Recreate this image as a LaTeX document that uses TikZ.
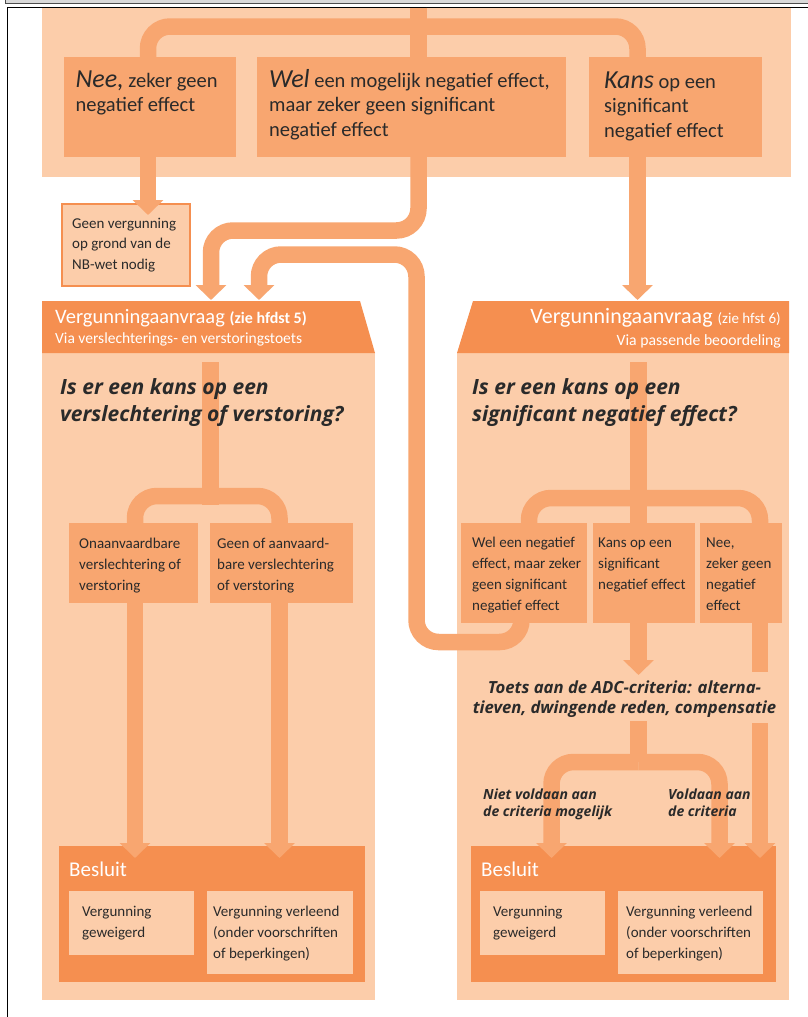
\documentclass[tikz,border=0pt]{standalone}
\usepackage{fontspec}
\setmainfont{Carlito}
\newfontfamily\osans{Open Sans}
\usetikzlibrary{arrows.meta}
\pgfdeclarelayer{back}
\pgfdeclarelayer{mid}
\pgfsetlayers{back,mid,main}
\definecolor{lightp}{HTML}{FCCDAA}
\definecolor{medo}{HTML}{F8A670}
\definecolor{darko}{HTML}{F58F50}
\definecolor{txt}{HTML}{2A2A2A}
\newcommand\Lt[2]{\vtop{\baselineskip=#1\lineskiplimit=-100pt\lineskip=0pt\halign{##\hfil\cr#2\crcr}}}
\newcommand\Ct[2]{\vtop{\baselineskip=#1\lineskiplimit=-100pt\lineskip=0pt\halign{\hfil##\hfil\cr#2\crcr}}}
\newcommand\fTop{\fontsize{20.5}{24.5}\selectfont}
\newcommand\fBig{\fontsize{26}{26}\selectfont\itshape}
\newcommand\fBox{\fontsize{15}{21}\selectfont}
\newcommand\fQ{\osans\bfseries\itshape\fontsize{21}{27}\selectfont}
\begin{document}
\begin{tikzpicture}[x=1pt,y=-1pt,
  bx/.style={rectangle,inner sep=0pt,outer sep=0pt,anchor=north west,draw=none},
  conn/.style={draw=medo,line width=16.5pt,rounded corners=22pt},
  arr/.style={conn,-{Triangle[length=15pt,width=30pt]}},
  tx/.style={inner sep=0pt,anchor=base west,text=txt},
  wtx/.style={inner sep=0pt,anchor=base west,text=white}]
\useasboundingbox (0,0) rectangle (807,1017);
\begin{pgfonlayer}{back}
\fill[white] (0,0) rectangle (807,1017);
% page frame
\fill[black!15] (5,-1) rectangle (808,3);
\draw[black!70,line width=1pt] (5,-1) -- (5,3) -- (808,3);
\draw[black,line width=1.3pt] (7.5,1018) -- (7.5,7.5) -- (808,7.5);
% top band
\fill[lightp] (42,8.2) rectangle (791,177);
% left panel
\fill[lightp] (42,353) rectangle (375,1000);
\fill[darko] (42,301) -- (360,301) -- (375,353) -- (42,353) -- cycle;
% right panel
\fill[lightp] (457,353) rectangle (789,1000);
\fill[darko] (473,301) -- (789,301) -- (789,353) -- (457,353) -- cycle;
% geen box
\node[bx,fill=lightp,draw=darko,line width=1.5pt,minimum width=128pt,minimum height=82pt] (geen) at (62,204) {};
% Besluit boxes
\node[bx,fill=darko,minimum width=306pt,minimum height=136pt] (besL) at (59,846) {};
\node[bx,fill=lightp,minimum width=125pt,minimum height=64pt] (weigL) at (69,891) {};
\node[bx,fill=lightp,minimum width=146pt,minimum height=83pt] (verlL) at (207,891) {};
\node[bx,fill=darko,minimum width=305pt,minimum height=136pt] (besR) at (471,846) {};
\node[bx,fill=lightp,minimum width=125pt,minimum height=64pt] (weigR) at (480,891) {};
\node[bx,fill=lightp,minimum width=145pt,minimum height=83pt] (verlR) at (618,891) {};
\end{pgfonlayer}
% boxes
\node[bx,fill=medo,minimum width=172pt,minimum height=100pt] (nee) at (64,57) {};
\node[bx,fill=medo,minimum width=309pt,minimum height=100pt] (wel) at (257,57) {};
\node[bx,fill=medo,minimum width=173pt,minimum height=100pt] (kans) at (589,57) {};
\node[bx,fill=medo,minimum width=129pt,minimum height=80pt] (onaan) at (69,523) {};
\node[bx,fill=medo,minimum width=143pt,minimum height=80pt] (geenof) at (210,523) {};
\node[bx,fill=medo,minimum width=126pt,minimum height=100pt] (welneg) at (461,523) {};
\node[bx,fill=medo,minimum width=102pt,minimum height=100pt] (kansop) at (593,523) {};
\node[bx,fill=medo,minimum width=82pt,minimum height=100pt] (neez) at (700,523) {};
% coordinates
\coordinate (tstem) at (418.5,7.5);
\coordinate (lhA) at (211,300);
\coordinate (lhB) at (259,300);
\coordinate (rhA) at (637.5,300);
\coordinate (adcTop) at (638.5,675);
\coordinate (neeEnd) at (760,672);
\coordinate (adcBot) at (638.5,721);
\coordinate (neeRe) at (760,723);
\coordinate (split3) at (638.5,762);
\begin{pgfonlayer}{mid}
% top split
\draw[conn] (tstem) -- (tstem |- wel.north);
\draw[conn] (148,70) |- (637.5,26.5) -- (637.5,70);
\draw[arr] (148,150) -- (148,215);
\draw[arr] (418.5,150) |- (211,230.5) -- (lhA);
\draw[arr] (521.5,600) |- (416.5,642) -- (416.5,254.5) -| (lhB);
\draw[arr] (637.5,150) -- (rhA);
% left panel
\draw[conn] (210.5,362) -- (210.5,505);
\draw[conn] (135,540) |- (279.5,496) -- (279.5,540);
\draw[arr] (135,595) -- (135,858);
\draw[arr] (279.5,595) -- (279.5,858);
% right panel
\draw[conn] (638.5,362) -- (638.5,540);
\draw[conn] (529,540) |- (760,498) -- (760,540);
\draw[arr] (638.5,600) -- (adcTop);
\draw[conn] (760,600) -- (neeEnd);
\draw[conn] (adcBot) -- (split3);
\draw[arr] (split3) -| (551.5,858);
\draw[arr] (split3) -| (719.5,858);
\draw[arr] (neeRe) -- (760,858);
\end{pgfonlayer}
% texts top
\node[tx,font=\fTop] (tnee) at (75.5,87) {\Lt{24.5pt}{{\fBig Nee,} zeker geen\cr negatief effect}};
\node[tx,font=\fTop] (twel) at (269,87) {\Lt{24.5pt}{{\fBig Wel} een mogelijk negatief effect,\cr maar zeker geen significant\cr negatief effect}};
\node[tx,font=\fTop] (tkans) at (604,88) {\Lt{24.5pt}{{\fBig Kans} op een\cr significant\cr negatief effect}};
\node[tx,font=\fontsize{15}{20.5}\selectfont] (tgeen) at (72,228) {\Lt{20.5pt}{Geen vergunning\cr op grond van de\cr NB-wet nodig}};
% headers
\node[wtx,font=\fontsize{20.5}{21}\selectfont] (thl1) at (55,323) {Vergunningaanvraag {\fontsize{16}{16}\selectfont\bfseries (zie hfdst 5)}};
\node[wtx,font=\fontsize{15.5}{16}\selectfont] (thl2) at (55,343) {Via verslechterings- en verstoringstoets};
\node[wtx,anchor=base east,font=\fontsize{22}{22}\selectfont] (thr1) at (781,323) {Vergunningaanvraag {\fontsize{15}{15}\selectfont (zie hfst 6)}};
\node[wtx,anchor=base east,font=\fontsize{15.7}{16}\selectfont] (thr2) at (781,345) {Via passende beoordeling};
% questions
\node[tx,font=\fQ] (qL) at (60,394) {\Lt{27pt}{Is er een kans op een\cr verslechtering of verstoring?}};
\node[tx,font=\fQ] (qR) at (472,394) {\Lt{27pt}{Is er een kans op een\cr significant negatief effect?}};
% panel box texts
\node[tx,font=\fBox] at (79,548) {\Lt{21pt}{Onaanvaardbare\cr verslechtering of\cr verstoring}};
\node[tx,font=\fBox] at (217,548) {\Lt{21pt}{Geen of aanvaard-\cr bare verslechtering\cr of verstoring}};
\node[tx,font=\fBox] at (472,547) {\Lt{21pt}{Wel een negatief\cr effect, maar zeker\cr geen significant\cr negatief effect}};
\node[tx,font=\fBox] at (598,547) {\Lt{21pt}{Kans op een\cr significant\cr negatief effect}};
\node[tx,font=\fBox] at (706,547) {\Lt{21pt}{Nee,\cr zeker geen\cr negatief\cr effect}};
% ADC
\node[tx,anchor=base,font=\osans\bfseries\itshape\fontsize{16.7}{20}\selectfont] (adc) at (624.5,693) {\Ct{20pt}{Toets aan de ADC-criteria: alterna-\cr tieven, dwingende reden, compensatie}};
\node[tx,font=\osans\bfseries\itshape\fontsize{14}{17}\selectfont] at (483,799) {\Lt{17pt}{Niet voldaan aan\cr de criteria mogelijk}};
\node[tx,font=\osans\bfseries\itshape\fontsize{14}{17}\selectfont] at (668,799) {\Lt{17pt}{Voldaan aan\cr de criteria}};
% Besluit
\node[wtx,font=\fontsize{21}{21}\selectfont] at (69,876) {Besluit};
\node[wtx,font=\fontsize{21}{21}\selectfont] at (481,876) {Besluit};
\node[tx,font=\fBox] at (82,916) {\Lt{21pt}{Vergunning\cr geweigerd}};
\node[tx,font=\fBox] at (213,916) {\Lt{21pt}{Vergunning verleend\cr (onder voorschriften\cr of beperkingen)}};
\node[tx,font=\fBox] at (493,916) {\Lt{21pt}{Vergunning\cr geweigerd}};
\node[tx,font=\fBox] at (626,916) {\Lt{21pt}{Vergunning verleend\cr (onder voorschriften\cr of beperkingen)}};
\end{tikzpicture}
\end{document}
